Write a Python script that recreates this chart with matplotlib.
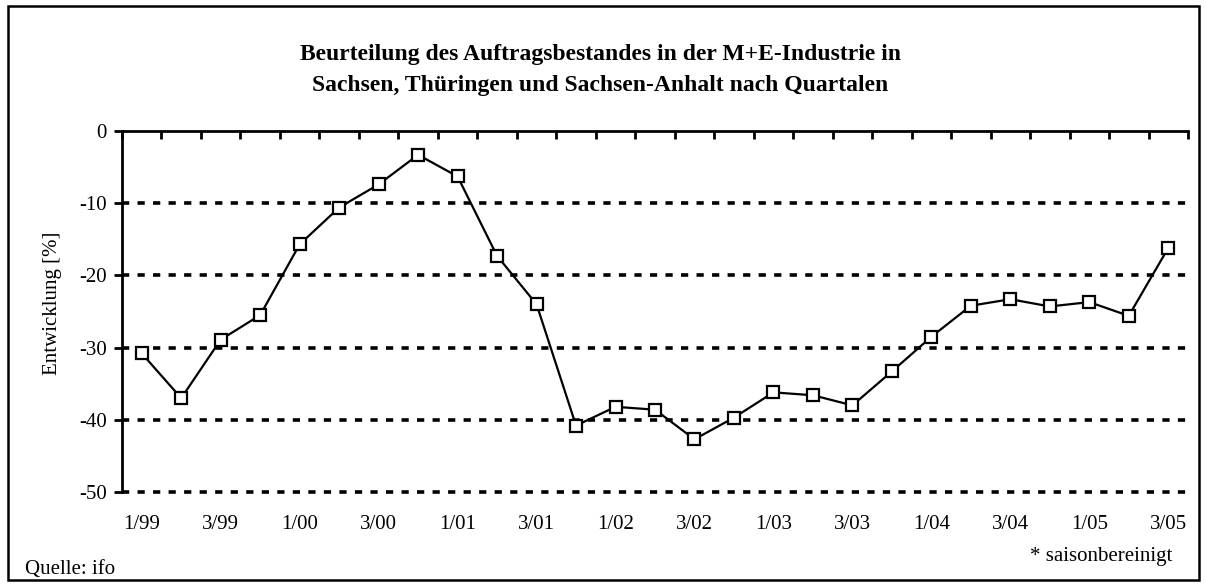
import matplotlib
matplotlib.use("Agg")
import matplotlib.pyplot as plt
from matplotlib.patches import Rectangle

quarters = ["1/99", "2/99", "3/99", "4/99", "1/00", "2/00", "3/00", "4/00",
            "1/01", "2/01", "3/01", "4/01", "1/02", "2/02", "3/02", "4/02",
            "1/03", "2/03", "3/03", "4/03", "1/04", "2/04", "3/04", "4/04",
            "1/05", "2/05", "3/05"]
values = [-30.8, -37.0, -28.9, -25.5, -15.7, -10.6, -7.4, -3.3,
          -6.3, -17.3, -24.0, -40.8, -38.2, -38.6, -42.7, -39.7,
          -36.2, -36.6, -38.0, -33.3, -28.5, -24.2, -23.3, -24.3,
          -23.7, -25.6, -16.2]
yticks = [0, -10, -20, -30, -40, -50]

title_lines = ["Beurteilung des Auftragsbestandes in der M+E-Industrie in",
               "Sachsen, Thüringen und Sachsen-Anhalt nach Quartalen"]
ylabel = "Entwicklung [%]"
source = "Quelle: ifo"
note = "* saisonbereinigt"

plt.rcParams['font.family'] = ['Liberation Serif', 'DejaVu Serif']

W, H = 1206, 588
fig = plt.figure(figsize=(W / 100, H / 100), dpi=100)
fig.patch.set_facecolor("white")

ax = fig.add_axes([122 / W, 1 - 492 / H, (1188 - 122) / W, (492 - 131) / H])
n = len(values)
x = list(range(n))

# grid lines (dotted)
for yv in yticks[1:]:
    ax.axhline(yv, color="black", lw=2.6, ls=(0, (2.0, 2.3)),
               clip_on=False, zorder=1, dash_capstyle="butt")

ax.plot(x, values, color="black", lw=1.6, marker="s", ms=9,
        mfc="white", mec="black", mew=1.6, zorder=3, clip_on=False)

ax.set_xlim(-0.5, n - 0.5)
ax.set_ylim(-50, 0)

for s in ["right", "bottom"]:
    ax.spines[s].set_visible(False)
ax.spines["top"].set_linewidth(2.0)
ax.spines["left"].set_linewidth(2.0)

fs = 15
ax.set_yticks(yticks)
ax.set_yticklabels([str(v) for v in yticks])
ax.tick_params(axis="y", which="major", direction="out", length=6, width=2,
               labelsize=fs, pad=5)

major = x[::2]
ax.set_xticks(major)
ax.set_xticklabels([quarters[i] for i in major])
ax.set_xticks([i - 0.5 for i in range(n + 1)], minor=True)
ax.tick_params(axis="x", which="major", bottom=False, top=False,
               labelbottom=True, labelsize=fs, pad=13)
ax.tick_params(axis="x", which="minor", bottom=False, top=True,
               direction="in", length=6, width=2)

for line, yb in zip(title_lines, [60, 91]):
    fig.text(600 / W, 1 - yb / H, line, ha="center", va="baseline",
             fontsize=17, fontweight="bold")
fig.text(52 / W, 1 - 303 / H, ylabel, ha="center", va="center",
         rotation=90, fontsize=fs)
fig.text(25 / W, 1 - 574 / H, source, ha="left", va="baseline", fontsize=fs)
fig.text(1172 / W, 1 - 561 / H, note, ha="right", va="baseline", fontsize=fs)

fig.patches.append(Rectangle((8 / W, 1 - 580 / H), (1199 - 8) / W, (580 - 6) / H,
                             transform=fig.transFigure, fill=False,
                             edgecolor="black", lw=1.8))

fig.savefig("out.png", dpi=100)
